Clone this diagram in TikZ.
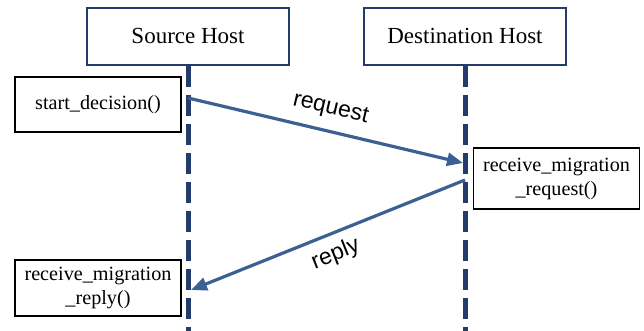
\documentclass[tikz,border=0pt]{standalone}
\usepackage{fontspec}
\setmainfont{Liberation Serif}
\setsansfont{Liberation Sans}
\usetikzlibrary{arrows.meta}
\usetikzlibrary{positioning}

\definecolor{lifeblue}{RGB}{36,60,108}
\definecolor{msgblue}{RGB}{60,96,148}

\tikzset{
	host/.style={draw=lifeblue, line width=1.4pt, minimum width=101pt, minimum height=28.5pt, inner sep=0pt, font=\fontsize{11.5}{13}\selectfont},
	call/.style={draw, line width=0.6pt, minimum width=83pt, align=center, inner sep=0pt, font=\fontsize{10.1}{12}\selectfont},
	lifeline/.style={draw=lifeblue, line width=2.5pt, dash pattern=on 10.5pt off 4pt},
	msg/.style={draw=msgblue, line width=1.6pt, -{Triangle[length=8pt,width=6.5pt]}},
	msglabel/.style={font=\sffamily\fontsize{11.5}{13}\selectfont, sloped}
}

\begin{document}
\begin{tikzpicture}[x=0.5pt, y=-0.5pt]
	\useasboundingbox (0,0) rectangle (644,331);

	% the two hosts and their life lines
	\node[host] (src) at (188, 36.5) {Source Host};
	\node[host] (dst) at (465, 36.5) {Destination Host};
	\coordinate (src end) at (188, 331);
	\coordinate (dst end) at (465, 331);
	\draw[lifeline] (src.south) -- (src end);
	\draw[lifeline] (dst.south) -- (dst end);

	% function calls
	\node[call, minimum height=27.5pt] (decide) at (98, 104.5) {start\_decision()};
	\node[call, minimum height=30.5pt] (recvreq) at (556.5, 178.5) {receive\_migration\\\_request()};
	\node[call, minimum height=28pt] (recvrep) at (98, 288) {receive\_migration\\\_reply()};

	% messages between the hosts
	\coordinate (req from) at (188, 98);
	\coordinate (req to) at (463, 163);
	\coordinate (rep from) at (465, 180);
	\coordinate (rep to) at (191, 290);
	\draw[msg] (req from) -- (req to) node[msglabel, pos=0.5, above=2pt] {request};
	\draw[msg] (rep from) -- (rep to) node[msglabel, pos=0.5, below=1pt] {reply};
\end{tikzpicture}
\end{document}
